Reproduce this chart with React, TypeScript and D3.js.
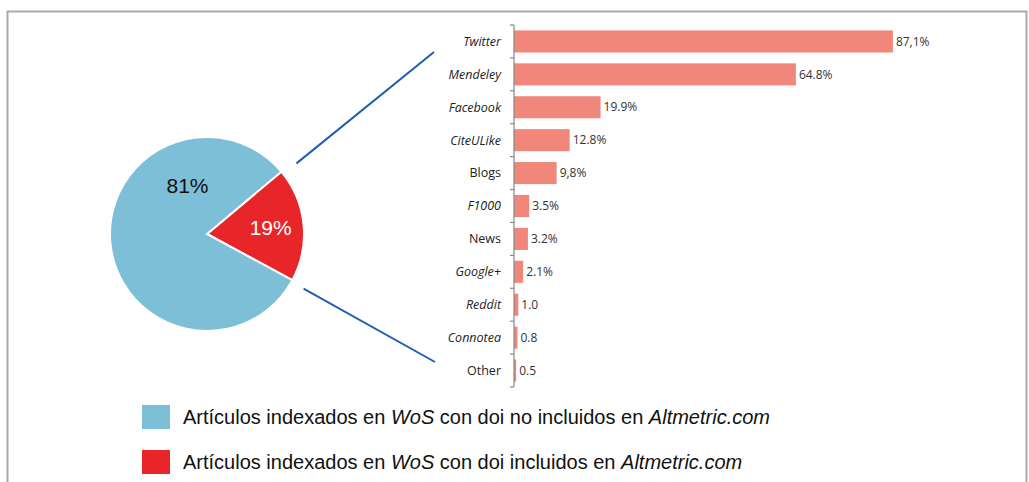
import React, { useRef, useEffect } from "react";
import * as d3 from "d3";

const categories = ["Twitter", "Mendeley", "Facebook", "CiteULike", "Blogs", "F1000", "News", "Google+", "Reddit", "Connotea", "Other"];
const italicCats = ["Twitter", "Mendeley", "Facebook", "CiteULike", "F1000", "Google+", "Reddit", "Connotea"];
const barValues = [87.1, 64.8, 19.9, 12.8, 9.8, 3.5, 3.2, 2.1, 1.0, 0.8, 0.5];
const barLabels = ["87,1%", "64.8%", "19.9%", "12.8%", "9,8%", "3.5%", "3.2%", "2.1%", "1.0", "0.8", "0.5"];

// pie: [incluidos, no incluidos]
const pieValues = [19, 81];
const pieLabels = ["19%", "81%"];
const pieColors = ["#e8262a", "#7cbfd7"];
const legendItems = [
  { pre: "Artículos indexados en ", wos: "WoS", mid: " con doi no incluidos en ", alt: "Altmetric.com", color: "#7cbfd7" },
  { pre: "Artículos indexados en ", wos: "WoS", mid: " con doi incluidos en ", alt: "Altmetric.com", color: "#e8262a" },
];

const W = 1029;
const H = 482;

const App: React.FC = () => {
  const ref = useRef<SVGSVGElement | null>(null);

  useEffect(() => {
    const svg = d3.select(ref.current);
    svg.selectAll("*").remove();

    // frame
    svg.append("rect")
      .attr("x", 7.5).attr("y", 11.5)
      .attr("width", 1019).attr("height", 500)
      .attr("fill", "#fff").attr("stroke", "#aaa").attr("stroke-width", 2);

    // ---- bar chart
    const axisX = 514;
    const x = d3.scaleLinear().domain([0, 100]).range([axisX, axisX + 435]);
    const y = d3.scaleBand().domain(categories).range([25, 387]).paddingInner(0.33).paddingOuter(0.165);

    const bars = svg.append("g");
    bars.selectAll("rect")
      .data(barValues)
      .join("rect")
      .attr("x", x(0))
      .attr("y", (_, i) => y(categories[i])!)
      .attr("width", (d) => x(d) - x(0))
      .attr("height", y.bandwidth())
      .attr("fill", "#f1877a");

    bars.selectAll("text.val")
      .data(barValues)
      .join("text")
      .attr("class", "val")
      .attr("x", (d) => x(d) + 3)
      .attr("y", (_, i) => y(categories[i])! + y.bandwidth() / 2)
      .attr("dy", "0.35em")
      .attr("font-family", "Open Sans, sans-serif")
      .attr("font-size", 12)
      .attr("fill", "#333")
      .text((_, i) => barLabels[i]);

    // axis
    const ax = svg.append("g");
    ax.append("line")
      .attr("x1", axisX).attr("x2", axisX)
      .attr("y1", 25).attr("y2", 387)
      .attr("stroke", "#888").attr("stroke-width", 1.2);
    const step = y.step();
    const y0 = 25;
    ax.selectAll("line.tick")
      .data(d3.range(categories.length + 1))
      .join("line")
      .attr("class", "tick")
      .attr("x1", axisX - 4).attr("x2", axisX)
      .attr("y1", (i) => y0 + i * step).attr("y2", (i) => y0 + i * step)
      .attr("stroke", "#888").attr("stroke-width", 1.2);
    ax.selectAll("text")
      .data(categories)
      .join("text")
      .attr("x", 501)
      .attr("y", (d) => y(d)! + y.bandwidth() / 2)
      .attr("dy", "0.35em")
      .attr("text-anchor", "end")
      .attr("font-family", "Open Sans, sans-serif")
      .attr("font-size", 12.5)
      .attr("font-style", (d) => (italicCats.includes(d) ? "italic" : "normal"))
      .attr("fill", "#222")
      .text((d) => d);

    // ---- pie
    const cx = 207, cy = 234, r = 97;
    const pie = d3.pie<number>().sort(null)
      .startAngle((50 * Math.PI) / 180)
      .endAngle((50 * Math.PI) / 180 + 2 * Math.PI);
    const arcs = pie(pieValues);
    const arc = d3.arc<d3.PieArcDatum<number>>().innerRadius(0).outerRadius(r);
    const pg = svg.append("g").attr("transform", `translate(${cx},${cy})`);
    pg.selectAll("path")
      .data(arcs)
      .join("path")
      .attr("d", arc)
      .attr("fill", (_, i) => pieColors[i])
      .attr("stroke", "#fff")
      .attr("stroke-width", 2);

    const redLabel = d3.arc<d3.PieArcDatum<number>>().innerRadius(64).outerRadius(64).centroid(arcs[0]);
    const blueLabel = d3.pointRadial((338 * Math.PI) / 180, 52);
    const labelPos = [redLabel, blueLabel];
    pg.selectAll("text")
      .data(arcs)
      .join("text")
      .attr("x", (_, i) => labelPos[i][0])
      .attr("y", (_, i) => labelPos[i][1])
      .attr("dy", "0.35em")
      .attr("text-anchor", "middle")
      .attr("font-family", "Liberation Sans, Arial, sans-serif")
      .attr("font-size", 21)
      .attr("fill", (_, i) => (i === 0 ? "#fff" : "#111"))
      .text((_, i) => pieLabels[i]);

    // connector lines from red slice edges to bar chart
    const a0 = arcs[0].startAngle + 0.03, a1 = arcs[0].endAngle + 0.02;
    const p0 = d3.pointRadial(a0, r + 17);
    const p1 = d3.pointRadial(a1, r + 14);
    svg.append("line")
      .attr("x1", cx + p0[0]).attr("y1", cy + p0[1])
      .attr("x2", 434).attr("y2", 52)
      .attr("stroke", "#1f5fae").attr("stroke-width", 2);
    svg.append("line")
      .attr("x1", cx + p1[0]).attr("y1", cy + p1[1])
      .attr("x2", 435).attr("y2", 362)
      .attr("stroke", "#1f5fae").attr("stroke-width", 2);

    // ---- legend
    const lg = svg.append("g");
    legendItems.forEach((it, i) => {
      const ly = 405 + i * 45;
      lg.append("rect")
        .attr("x", 142).attr("y", ly)
        .attr("width", 28).attr("height", 24)
        .attr("fill", it.color);
      const t = lg.append("text")
        .attr("x", 183).attr("y", ly + 19)
        .attr("font-family", "Liberation Sans, Arial, sans-serif")
        .attr("font-size", 20)
        .attr("fill", "#111");
      t.append("tspan").text(it.pre);
      t.append("tspan").attr("font-style", "italic").text(it.wos);
      t.append("tspan").text(it.mid);
      t.append("tspan").attr("font-style", "italic").text(it.alt);
    });
  }, []);

  return (
    <svg
      ref={ref}
      width={W}
      height={H}
      style={{ position: "absolute", left: 0, top: 0, display: "block" }}
    />
  );
};

export default App;
